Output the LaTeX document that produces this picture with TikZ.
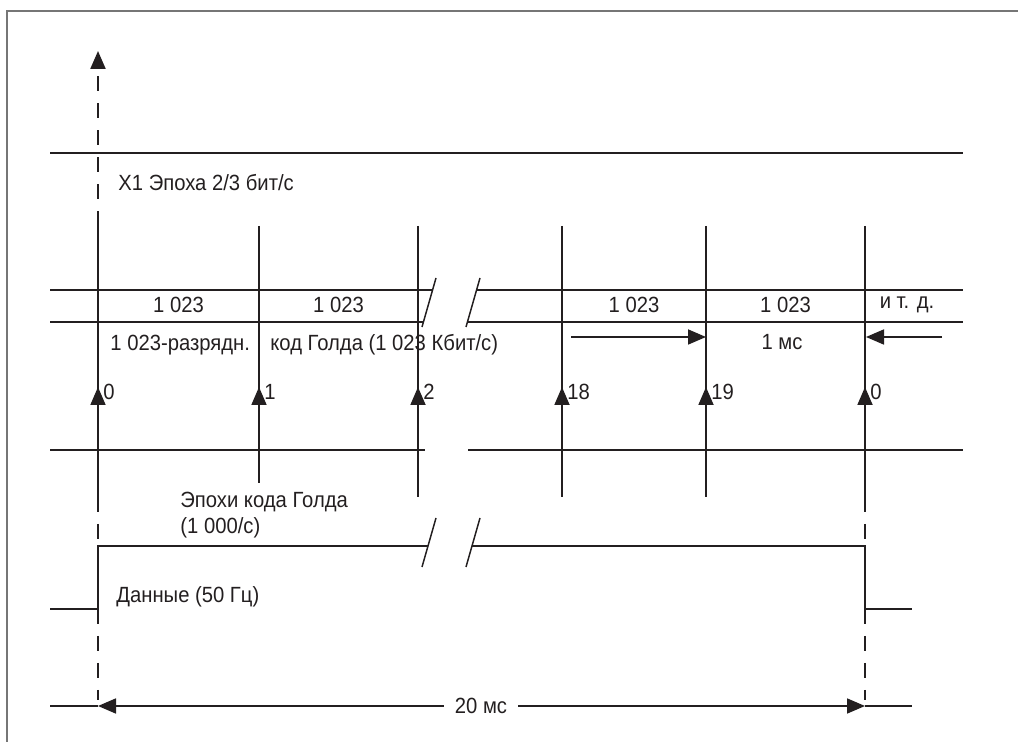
\documentclass[tikz,border=0pt]{standalone}
\usepackage{fontspec}
\setmainfont{Liberation Sans}[FakeStretch=0.92]
\usetikzlibrary{positioning,arrows.meta}
\definecolor{inkgray}{HTML}{231F20}
\definecolor{framegray}{HTML}{767676}
\tikzset{
  gridline/.style={line width=0.75pt, inkgray},
  dashline/.style={line width=1.1pt, inkgray, dash pattern=on 7.5pt off 6pt},
  tickarrow/.style={-{Triangle[length=9pt, width=7.5pt]}, line width=0.9pt, inkgray},
  frameline/.style={line width=1pt, framegray},
  cell/.style={font=\fontsize{11}{13}\selectfont, inner sep=0pt, text=inkgray},
  lbl/.style={font=\fontsize{11}{13}\selectfont, inner sep=0pt, anchor=west, text=inkgray, align=left}
}

\begin{document}
\begin{tikzpicture}[x=0.5pt, y=-0.5pt]
  \useasboundingbox (0,0) rectangle (1018,742);
  \draw[frameline] (7,742) -- (7,11) -- (1018,11);

  % epoch line
  \draw[gridline] (50,153) -- (963,153);
  \node[lbl] (epoch) at (118,183) {X1 Эпоха 2/3 бит/с};

  % code rows with break
  \draw[gridline] (50,290) -- (432,290);
  \draw[gridline] (476,290) -- (963,290);
  \draw[gridline] (50,322) -- (424,322);
  \draw[gridline] (468,322) -- (963,322);
  \draw[gridline] (50,450) -- (425,450);
  \draw[gridline] (468,450) -- (963,450);
  \draw[gridline] (422,327) -- (436,278);
  \draw[gridline] (466,327) -- (480,278);

  % code epochs
  \foreach \x/\n/\lab/\yb in {98/0/0/497, 259/1/1/483, 418/2/2/497, 562/3/18/497, 706/4/19/497, 865/5/0/497} {
    \coordinate (top\n) at (\x,226);
    \coordinate (bot\n) at (\x,\yb);
    \coordinate (tip\n) at (\x,387);
    \draw[gridline] (top\n) -- (bot\n);
    \draw[tickarrow] (\x,420) -- (tip\n);
    \node[lbl] (num\n) at (\x+5,392) {\lab};
  }
  \foreach \a/\b/\n in {98/259/a, 259/418/b, 562/706/c, 706/865/d}
    \node[cell] (cell\n) at ({(\a+\b)/2},305) {1 023};
  \node[cell] (etc) at (907,305) {и т. д.};

  \node[lbl] (codeA) at (110,345) {1 023-разрядн.};
  \node[lbl] (codeB) at (270,345) {код Голда (1 023 Кбит/с)};
  \node[cell] (onems) at (782,342) {1 мс};
  \coordinate (msL) at (571,337);
  \coordinate (msR) at (942,337);
  \draw[tickarrow] (msL) -- (706,337);
  \draw[tickarrow] (msR) -- (866,337);

  \node[lbl] (gold) at (180,515) {Эпохи кода Голда\\(1 000/с)};

  % data bit
  \draw[gridline] (50,609) -- (98,609) -- (98,546) -- (428,546);
  \draw[gridline] (472,546) -- (865,546) -- (865,609) -- (912,609);
  \draw[gridline] (422,567) -- (436,518);
  \draw[gridline] (466,567) -- (480,518);
  \node[lbl] (data) at (116,597) {Данные (50 Гц)};

  % dashed markers
  \draw[dashline, -{Triangle[length=9pt, width=7.5pt]}] (98,226) -- (98,51);
  \draw[dashline] (98,497) -- (98,546);
  \draw[dashline] (98,609) -- (98,700);
  \draw[dashline] (865,497) -- (865,546);
  \draw[dashline] (865,609) -- (865,700);

  % 20 ms span
  \coordinate (spanL) at (98,706);
  \coordinate (spanR) at (865,706);
  \node[cell, inner sep=5.5pt] (span) at (481,706) {20 мс};
  \draw[tickarrow] (span) -- (spanL);
  \draw[tickarrow] (span) -- (spanR);
  \draw[gridline] (50,706) -- (spanL);
  \draw[gridline] (spanR) -- (912,706);
\end{tikzpicture}
\end{document}
